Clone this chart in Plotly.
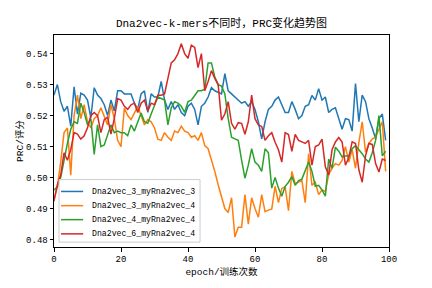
import plotly.graph_objects as go

epochs = list(range(100))

s_3_3 = [0.5266, 0.530, 0.5245, 0.5214, 0.523, 0.5166, 0.5293, 0.5205, 0.5272, 0.5266,
         0.525, 0.5193, 0.529, 0.5266, 0.5255, 0.5235, 0.520, 0.525, 0.5215, 0.528,
         0.528, 0.527, 0.527, 0.527, 0.524, 0.522, 0.527, 0.528, 0.521, 0.527,
         0.526, 0.526, 0.531, 0.525, 0.522, 0.5245, 0.522, 0.5235, 0.521, 0.520,
         0.523, 0.524, 0.522, 0.517, 0.523, 0.524, 0.526, 0.529, 0.528, 0.5275,
         0.527, 0.5335, 0.528, 0.527, 0.526, 0.525, 0.524, 0.5245, 0.523, 0.5245,
         0.522, 0.518, 0.5125, 0.518, 0.522, 0.523, 0.525, 0.526, 0.5235, 0.521,
         0.521, 0.5245, 0.522, 0.519, 0.520, 0.523, 0.5235, 0.5265, 0.525, 0.5287,
         0.525, 0.526, 0.521, 0.522, 0.5225, 0.5187, 0.5156, 0.519, 0.5187, 0.515,
         0.5303, 0.518, 0.5266, 0.5245, 0.519, 0.516, 0.5125, 0.519, 0.5205, 0.512]

s_3_4 = [0.493, 0.497, 0.505, 0.5145, 0.516, 0.5008, 0.520, 0.5266, 0.519, 0.5235,
         0.518, 0.516, 0.519, 0.520, 0.5225, 0.520, 0.517, 0.5235, 0.519, 0.512,
         0.510, 0.5224, 0.520, 0.5187, 0.521, 0.523, 0.520, 0.517, 0.5187, 0.518,
         0.516, 0.5124, 0.512, 0.5145, 0.513, 0.512, 0.515, 0.5145, 0.5166, 0.515,
         0.5145, 0.513, 0.5135, 0.512, 0.5145, 0.5103, 0.5093, 0.506, 0.502, 0.4977,
         0.4935, 0.490, 0.4887, 0.4935, 0.4808, 0.484, 0.484, 0.4945, 0.485, 0.4935,
         0.490, 0.4872, 0.4945, 0.489, 0.4895, 0.4898, 0.4972, 0.4919, 0.4965, 0.497,
         0.4893, 0.502, 0.498, 0.4985, 0.499, 0.4919, 0.5077, 0.4975, 0.4985, 0.4945,
         0.496, 0.4955, 0.501, 0.503, 0.5045, 0.504, 0.5055, 0.510, 0.505, 0.509,
         0.503, 0.5113, 0.518, 0.5082, 0.511, 0.5124, 0.513, 0.5156, 0.518, 0.502]

s_4_4 = [0.496, 0.497, 0.500, 0.506, 0.511, 0.5156, 0.518, 0.5175, 0.524, 0.521,
         0.517, 0.519, 0.5075, 0.517, 0.510, 0.5105, 0.514, 0.517, 0.5145, 0.515,
         0.5145, 0.5145, 0.5135, 0.517, 0.515, 0.518, 0.5208, 0.518, 0.5175, 0.5205,
         0.5235, 0.526, 0.5255, 0.525, 0.517, 0.5225, 0.5245, 0.524, 0.523, 0.521,
         0.5245, 0.525, 0.5265, 0.528, 0.528, 0.5285, 0.537, 0.537, 0.5324, 0.530,
         0.5295, 0.527, 0.519, 0.513, 0.5125, 0.512, 0.5056, 0.4998, 0.504, 0.5093,
         0.505, 0.504, 0.502, 0.5093, 0.508, 0.4966, 0.500, 0.4966, 0.494, 0.4972,
         0.4985, 0.5003, 0.4975, 0.499, 0.4995, 0.502, 0.505, 0.502, 0.4972, 0.4975,
         0.496, 0.494, 0.506, 0.503, 0.5098, 0.5085, 0.5067, 0.507, 0.507, 0.5093,
         0.5103, 0.509, 0.5077, 0.506, 0.505, 0.508, 0.512, 0.520, 0.507, 0.5085]

s_6_4 = [0.4924, 0.4977, 0.5008, 0.508, 0.5056, 0.509, 0.5145, 0.514, 0.5124, 0.5135,
         0.5161, 0.520, 0.521, 0.520, 0.5145, 0.5187, 0.5195, 0.514, 0.519, 0.5255,
         0.525, 0.523, 0.522, 0.5235, 0.524, 0.521, 0.524, 0.525, 0.5215, 0.524,
         0.5235, 0.5266, 0.5266, 0.527, 0.532, 0.537, 0.538, 0.540, 0.5432, 0.540,
         0.5385, 0.5427, 0.542, 0.5355, 0.540, 0.528, 0.531, 0.5345, 0.532, 0.530,
         0.5185, 0.5205, 0.5245, 0.5175, 0.5156, 0.5177, 0.5175, 0.514, 0.518, 0.5266,
         0.519, 0.517, 0.5165, 0.512, 0.5135, 0.5145, 0.5114, 0.509, 0.505, 0.5145,
         0.5139, 0.5085, 0.5139, 0.512, 0.5115, 0.511, 0.512, 0.504, 0.510, 0.5105,
         0.5124, 0.5035, 0.5008, 0.509, 0.5115, 0.5129, 0.5115, 0.504, 0.5065, 0.5115,
         0.511, 0.5025, 0.4985, 0.507, 0.511, 0.5107, 0.5045, 0.5018, 0.506, 0.5055]

names = ["Dna2vec_3_myRna2vec_3", "Dna2vec_3_myRna2vec_4",
         "Dna2vec_4_myRna2vec_4", "Dna2vec_6_myRna2vec_4"]
series = [s_3_3, s_3_4, s_4_4, s_6_4]
colors = ["#1f77b4", "#ff7f0e", "#2ca02c", "#d62728"]

title_text = "Dna2vec-k-mers不同时，PRC变化趋势图"
x_title = "epoch/训练次数"
y_title = "PRC/评分"
x_ticks = [0, 20, 40, 60, 80, 100]
y_ticks = [0.48, 0.49, 0.50, 0.51, 0.52, 0.53, 0.54]

FONT = "Liberation Mono, Noto Sans CJK SC, monospace"

fig = go.Figure()
for name, ys, c in zip(names, series, colors):
    fig.add_trace(go.Scatter(x=epochs, y=ys, mode="lines", name=name,
                             line=dict(color=c, width=1.5), showlegend=False))

# matplotlib-style legend box (lower left, inside axes), in paper coordinates
leg_x0, leg_x1, leg_y0, leg_y1 = 0.015, 0.436, 0.023, 0.318
row_y = [0.262, 0.195, 0.129, 0.062]
fig.add_shape(type="rect", xref="paper", yref="paper",
              x0=leg_x0, x1=leg_x1, y0=leg_y0, y1=leg_y1,
              fillcolor="rgba(255,255,255,0.8)", line=dict(color="#cccccc", width=1),
              layer="above")
for name, c, ry in zip(names, colors, row_y):
    fig.add_shape(type="line", xref="paper", yref="paper",
                  x0=0.021, x1=0.087, y0=ry, y1=ry,
                  line=dict(color=c, width=1.5), layer="above")
    fig.add_annotation(xref="paper", yref="paper", x=0.108, y=ry,
                       xanchor="left", yanchor="middle", text=name, showarrow=False,
                       font=dict(family=FONT, size=8.2, color="black"))

axis_common = dict(showline=True, linecolor="black", linewidth=1, mirror=True,
                   ticks="outside", ticklen=3.5, tickwidth=0.8, tickcolor="black",
                   showgrid=False, zeroline=False,
                   tickfont=dict(family=FONT, size=9, color="black"))

fig.update_layout(
    width=432, height=288,
    margin=dict(l=54, r=43, t=35, b=36),
    paper_bgcolor="white", plot_bgcolor="white",
    font=dict(family=FONT, color="black"),
    title=dict(text=title_text, x=(54 + 389) / 2 / 432, xanchor="center",
               y=1 - 23 / 288, yanchor="middle",
               font=dict(family=FONT, size=11, color="black")),
    xaxis=dict(range=[0, 100], tickvals=x_ticks,
               title=dict(text=x_title, font=dict(family=FONT, size=9.5), standoff=4),
               **axis_common),
    yaxis=dict(range=[0.4776, 0.546], tickvals=y_ticks, tickformat=".2f",
               title=dict(text=y_title, font=dict(family=FONT, size=9.5), standoff=0),
               **axis_common),
    showlegend=False,
)

fig.write_html("out.html")
